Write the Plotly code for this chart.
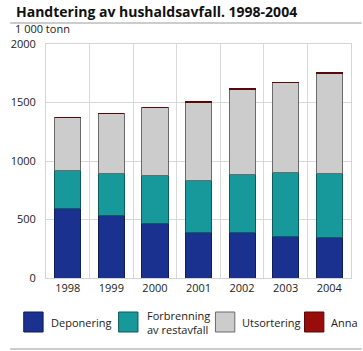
import plotly.graph_objects as go

years = ["1998", "1999", "2000", "2001", "2002", "2003", "2004"]
deponering = [598, 532, 470, 385, 387, 359, 350]
forbrenning = [319, 357, 410, 449, 496, 547, 541]
utsortering = [456, 513, 578, 670, 732, 766, 858]
anna = [0, 0, 0, 8, 3, 3, 8]

series_names = ["Deponering", "Forbrenning<br>av restavfall", "Utsortering", "Anna"]
series_values = [deponering, forbrenning, utsortering, anna]
colors = ["#1a318f", "#17989a", "#cccccc", "#990c0c"]
line_colors = ["#0f1f5a", "#0d5b5c", "#6a6a6a", "#5a0808"]

W, H = 363, 351
L, R, T, B = 37, 11, 44, 73
PW, PH = W - L - R, H - T - B


def px(x):
    return (x - L) / PW


def py(y):
    return (H - B - y) / PH


FONT = "Open Sans"

fig = go.Figure()
for name, vals, c, lc in zip(series_names, series_values, colors, line_colors):
    fig.add_trace(go.Bar(x=years, y=vals, name=name, marker=dict(color=c, line=dict(color=lc, width=1)),
                         showlegend=False))

fig.update_layout(
    width=W, height=H,
    margin=dict(l=L, r=R, t=T, b=B, pad=0),
    barmode="stack", bargap=0.4,
    plot_bgcolor="white", paper_bgcolor="white",
    font=dict(family=FONT, size=11, color="#222"),
    xaxis=dict(type="category", tickson="boundaries", showgrid=True, gridcolor="#d9d9d9", gridwidth=1,
               showline=True, linecolor="#d4d4d4", mirror=True, ticks="", tickfont=dict(size=11)),
    yaxis=dict(range=[0, 2000], dtick=500, showgrid=True, gridcolor="#d9d9d9", gridwidth=1,
               showline=True, linecolor="#d4d4d4", mirror=True, ticks="", zeroline=False,
               ticklabelstandoff=7, tickfont=dict(size=11)),
)

annotations = [
    dict(text="<b>Handtering av hushaldsavfall. 1998-2004</b>", x=px(5), y=py(11.5), xref="paper", yref="paper",
         borderpad=0, xanchor="left", yanchor="middle", showarrow=False,
         font=dict(size=14, family=FONT, color="#111")),
    dict(text="1 000 tonn", x=px(4), y=py(37), xref="paper", yref="paper", borderpad=0,
         xanchor="left", yanchor="bottom", showarrow=False, font=dict(size=11, family=FONT, color="#222")),
]
shapes = [
    dict(type="line", xref="paper", yref="paper", x0=px(0), x1=px(W), y0=py(23), y1=py(23),
         line=dict(color="#9a9a9a", width=1)),
    dict(type="line", xref="paper", yref="paper", x0=px(0), x1=px(W), y0=py(349), y1=py(349),
         line=dict(color="#9a9a9a", width=1)),
]

box_x = [14, 112, 212, 304]
text_x = [40, 139, 237, 329]
for name, c, lc, bx, tx in zip(series_names, colors, line_colors, box_x, text_x):
    shapes.append(dict(type="rect", xref="paper", yref="paper", x0=px(bx), x1=px(bx + 20),
                       y0=py(312), y1=py(332), fillcolor=c, line=dict(color=lc, width=1)))
    annotations.append(dict(text=name, x=px(tx), y=py(322), xref="paper", yref="paper",
                            xanchor="left", yanchor="middle", align="left", showarrow=False,
                            font=dict(size=11, family=FONT, color="#222")))

fig.update_layout(annotations=annotations, shapes=shapes)
fig.write_html("out.html")
